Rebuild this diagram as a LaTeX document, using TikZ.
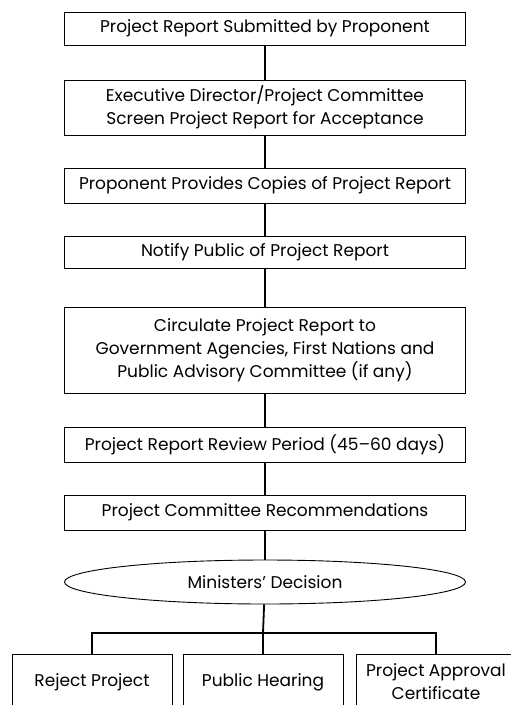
\documentclass[tikz,border=0pt]{standalone}
\usepackage{fontspec}
\setmainfont{Poppins}
\usepackage{tikz}
\usetikzlibrary{shapes.geometric}
\newcommand{\bxw}[0] {401}
\newcommand{\cx}[0] {265}

\tikzset{
  stepbox/.style={draw=black,line width=0.9pt,inner sep=0pt,minimum width=\bxw pt,align=center,font=\fontsize{17}{23}\selectfont},
  endbox/.style={draw=black,line width=0.9pt,inner sep=0pt,minimum width=160pt,minimum height=56pt,align=center,font=\fontsize{17}{23}\selectfont},
  link/.style={line width=1.8pt}
}

\begin{document}
\begin{tikzpicture}[x=1pt,y=-1pt]
        \clip (0,0) rectangle (511,705);
        \node[stepbox,minimum height=33pt] (a) at (\cx,28.5)  {Project Report Submitted by Proponent};
        \node[stepbox,minimum height=55pt] (b) at (\cx,107.5) {Executive Director/Project Committee\\Screen Project Report for Acceptance};
        \node[stepbox,minimum height=35pt] (c) at (\cx,185.5) {Proponent Provides Copies of Project Report};
        \node[stepbox,minimum height=32pt] (d) at (\cx,252)   {Notify Public of Project Report};
        \node[stepbox,minimum height=86pt] (e) at (\cx,350) {Circulate Project Report to\\Government Agencies, First Nations and\\Public Advisory Committee (if any)};
        \node[stepbox,minimum height=35pt] (f) at (\cx,444.5) {Project Report Review Period (45--60 days)};
        \node[stepbox,minimum height=35pt] (g) at (\cx,512.5) {Project Committee Recommendations};
        \node[draw=black,line width=0.9pt,shape=ellipse,inner sep=0pt,minimum width=\bxw pt,minimum height=44pt,font=\fontsize{17}{23}\selectfont] (h) at (\cx,582) {Ministers' Decision};

        \coordinate (split) at (263,633);
        \node[endbox] (r) at (92,682)  {Reject Project};
        \node[endbox] (p) at (263,682) {Public Hearing};
        \node[endbox] (q) at (436,682) {Project Approval\\Certificate};

        %links between steps
        \path[link] (a) edge (b);
        \path[link] (b) edge (c);
        \path[link] (c) edge (d);
        \path[link] (d) edge (e);
        \path[link] (e) edge (f);
        \path[link] (f) edge (g);
        \path[link] (g) edge (h);

        %decision branches
        \draw[link] (h) -- (split);
        \draw[link] (split) -| (r.north);
        \draw[link] (split) -- (p.north);
        \draw[link] (split) -| (q.north);
\end{tikzpicture}
\end{document}
